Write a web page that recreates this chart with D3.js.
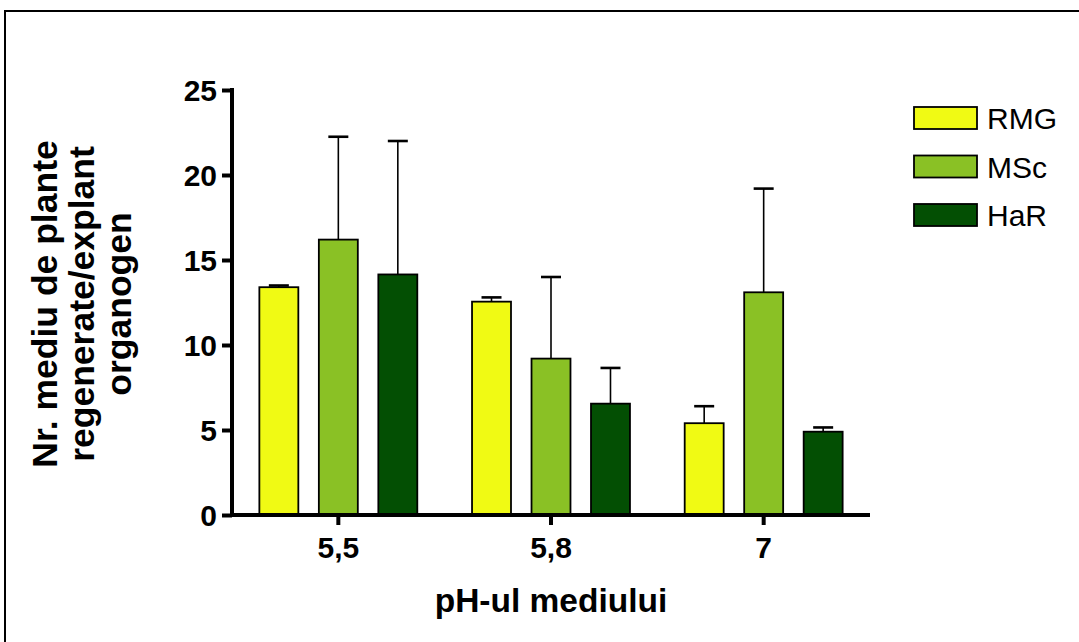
<!DOCTYPE html>
<html>
<head>
<meta charset="utf-8">
<script src="https://cdn.jsdelivr.net/npm/d3@7"></script>
<style>
  html, body { margin: 0; padding: 0; background: #fff; }
  svg { display: block; font-family: "Liberation Sans", Arial, sans-serif; }
</style>
</head>
<body>
<svg id="chart" width="1079" height="642"></svg>
<script>
// pH levels on the x axis
const categories = ["5,5", "5,8", "7"];
// culture media (series)
const seriesNames = ["RMG", "MSc", "HaR"];
const seriesColors = ["#F0FA14", "#8AC125", "#034F03"];
// mean number of regenerated plants per explant
const rmgMean = [13.4, 12.55, 5.4];
const mscMean = [16.2, 9.2, 13.1];
const harMean = [14.15, 6.55, 4.9];
// upper end of the error bars
const rmgErr = [13.5, 12.8, 6.4];
const mscErr = [22.25, 14.0, 19.2];
const harErr = [22.0, 8.65, 5.15];
const yTicks = [0, 5, 10, 15, 20, 25];

const means = [rmgMean, mscMean, harMean];
const errs = [rmgErr, mscErr, harErr];
const FONT = "Liberation Sans, Arial, sans-serif";

const svg = d3.select("#chart");

// outer frame
svg.append("path")
  .attr("d", "M5,660 L5,11 L1090,11")
  .attr("fill", "none").attr("stroke", "#000").attr("stroke-width", 2);

const x0 = d3.scaleBand().domain(categories).range([232, 870]);
const x1 = d3.scaleBand().domain(seriesNames).range([0, x0.bandwidth()])
  .paddingInner(0.345).paddingOuter(0.46);
const y = d3.scaleLinear().domain([0, 25]).range([515, 90]);

const rows = [];
categories.forEach((c, i) => seriesNames.forEach((s, j) => {
  rows.push({ cat: c, ser: s, color: seriesColors[j], v: means[j][i], e: errs[j][i] });
}));

// error bars (drawn under the bars)
const eb = svg.append("g");
rows.forEach(d => {
  const cx = x0(d.cat) + x1(d.ser) + x1.bandwidth() / 2;
  eb.append("line")
    .attr("x1", cx).attr("x2", cx).attr("y1", y(d.v)).attr("y2", y(d.e))
    .attr("stroke", "#000").attr("stroke-width", 1.6);
  eb.append("line")
    .attr("x1", cx - 10).attr("x2", cx + 10).attr("y1", y(d.e)).attr("y2", y(d.e))
    .attr("stroke", "#000").attr("stroke-width", 2.6);
});

// bars
svg.append("g").selectAll("rect").data(rows).join("rect")
  .attr("x", d => x0(d.cat) + x1(d.ser))
  .attr("width", x1.bandwidth())
  .attr("y", d => y(d.v))
  .attr("height", d => y(0) - y(d.v))
  .attr("fill", d => d.color)
  .attr("stroke", "#000").attr("stroke-width", 1.8);

// y axis
const yAxis = svg.append("g").attr("transform", "translate(232,0)")
  .call(d3.axisLeft(y).tickValues(yTicks).tickSize(10).tickPadding(5).tickFormat(d3.format("d")));
yAxis.select(".domain").attr("stroke-width", 4).attr("d", "M0,88V517");
yAxis.selectAll(".tick line").attr("stroke-width", 4);
yAxis.selectAll(".tick text")
  .attr("font-size", 30).attr("font-weight", "bold").attr("fill", "#000")
  .attr("font-family", FONT).attr("dy", "0.36em");

// x axis
const xAxis = svg.append("g").attr("transform", "translate(0,515)")
  .call(d3.axisBottom(x0).tickSize(10).tickPadding(12));
xAxis.select(".domain").attr("stroke-width", 4).attr("d", "M230,0H870");
xAxis.selectAll(".tick line").attr("stroke-width", 4);
xAxis.selectAll(".tick text")
  .attr("font-size", 30).attr("font-weight", "bold").attr("fill", "#000")
  .attr("font-family", FONT).attr("dy", "0.71em");

// axis titles
svg.append("text")
  .attr("x", 551).attr("y", 612)
  .attr("text-anchor", "middle")
  .attr("font-size", 33.5).attr("font-weight", "bold")
  .text("pH-ul mediului");

const yTitle = ["Nr. mediu de plante", "regenerate/explant", "organogen"];
svg.append("g").selectAll("text").data(yTitle).join("text")
  .attr("transform", (d, i) => `translate(${57 + i * 37},304) rotate(-90)`)
  .attr("text-anchor", "middle")
  .attr("font-size", 35.5).attr("font-weight", "bold")
  .text(d => d);

// legend
const lg = svg.append("g").attr("transform", "translate(914,107)");
seriesNames.forEach((s, i) => {
  const g = lg.append("g").attr("transform", `translate(0,${i * 48.5})`);
  g.append("rect").attr("width", 63).attr("height", 22)
    .attr("fill", seriesColors[i]).attr("stroke", "#000").attr("stroke-width", 1.8);
  g.append("text").attr("x", 73).attr("y", 22)
    .attr("font-size", 30).text(s);
});
</script>
</body>
</html>
